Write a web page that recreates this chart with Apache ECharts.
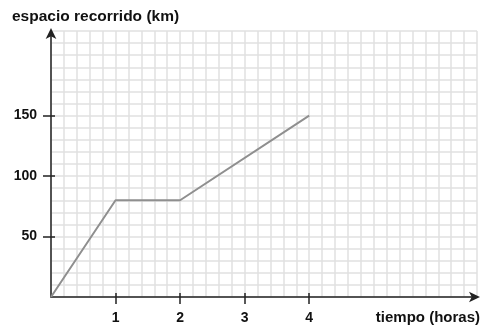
<!DOCTYPE html>
<html>
<head>
<meta charset="utf-8">
<script src="https://cdn.jsdelivr.net/npm/echarts@6/dist/echarts.min.js"></script>
<style>html,body{margin:0;padding:0;background:#fff;}#c{width:481px;height:326px;}</style>
</head>
<body>
<div id="c"></div>
<script>
const timeHours = [0, 1, 2, 4];
const distanceKm = [0, 80, 80, 150];
const xTickValues = [1, 2, 3, 4];
const yTickValues = [50, 100, 150];
const titleText = 'espacio recorrido (km)';
const xAxisTitle = 'tiempo (horas)';

const FONT = '"Liberation Sans", Arial, sans-serif';
const chart = echarts.init(document.getElementById('c'), null, {renderer: 'canvas'});
const grid = {left: 51, right: 4, top: 31, bottom: 29};
const xMax = 6.6, yMax = 220;
const axisColor = '#222';
const labelStyle = {color: '#111', fontFamily: FONT, fontWeight: 'bold', fontSize: 14};

chart.setOption({
  animation: false,
  title: [
    {text: titleText, left: 12, top: 9, padding: 0, textStyle: {fontFamily: FONT, fontWeight: 'bold', fontSize: 15.5, color: '#111'}},
    {text: xAxisTitle, right: 1, bottom: 1, padding: 0, textStyle: {fontFamily: FONT, fontWeight: 'bold', fontSize: 15, color: '#111'}}
  ],
  grid: grid,
  xAxis: [
    {type: 'value', min: 0, max: xMax, interval: 0.2, gridIndex: 0,
     axisLine: {show: false}, axisTick: {show: false}, axisLabel: {show: false},
     splitLine: {show: true, lineStyle: {color: '#e0e0e0', width: 1.5}}},
    {type: 'value', min: 0, max: xMax, gridIndex: 0, position: 'bottom',
     axisLine: {show: true, onZero: false, symbol: ['none', 'arrow'], symbolSize: [8, 11], symbolOffset: [0, 3], lineStyle: {color: axisColor, width: 1.5}},
     axisTick: {show: true, customValues: xTickValues, length: 7, lineStyle: {color: axisColor, width: 1.5}},
     axisLabel: {show: true, customValues: xTickValues, margin: 14, ...labelStyle},
     splitLine: {show: false}},
    {type: 'value', min: 0, max: xMax, gridIndex: 0, position: 'bottom',
     axisLine: {show: false},
     axisTick: {show: true, inside: true, customValues: xTickValues, length: 4, lineStyle: {color: axisColor, width: 1.5}},
     axisLabel: {show: false}, splitLine: {show: false}}
  ],
  yAxis: [
    {type: 'value', min: 0, max: yMax, interval: 10, gridIndex: 0,
     axisLine: {show: false}, axisTick: {show: false}, axisLabel: {show: false},
     splitLine: {show: true, lineStyle: {color: '#e0e0e0', width: 1.5}}},
    {type: 'value', min: 0, max: yMax, gridIndex: 0, position: 'left',
     axisLine: {show: true, onZero: false, symbol: ['none', 'arrow'], symbolSize: [8, 11], symbolOffset: [0, 3], lineStyle: {color: axisColor, width: 1.5}},
     axisTick: {show: true, customValues: yTickValues, length: 8, lineStyle: {color: axisColor, width: 1.5}},
     axisLabel: {show: true, customValues: yTickValues, margin: 14, ...labelStyle},
     splitLine: {show: false}},
    {type: 'value', min: 0, max: yMax, gridIndex: 0, position: 'left',
     axisLine: {show: false},
     axisTick: {show: true, inside: true, customValues: yTickValues, length: 4, lineStyle: {color: axisColor, width: 1.5}},
     axisLabel: {show: false}, splitLine: {show: false}}
  ],
  series: [{
    type: 'line', xAxisIndex: 1, yAxisIndex: 1,
    data: timeHours.map((t, i) => [t, distanceKm[i]]),
    showSymbol: false, symbol: 'none',
    lineStyle: {color: '#8f8f8f', width: 2}
  }]
});
</script>
</body>
</html>
